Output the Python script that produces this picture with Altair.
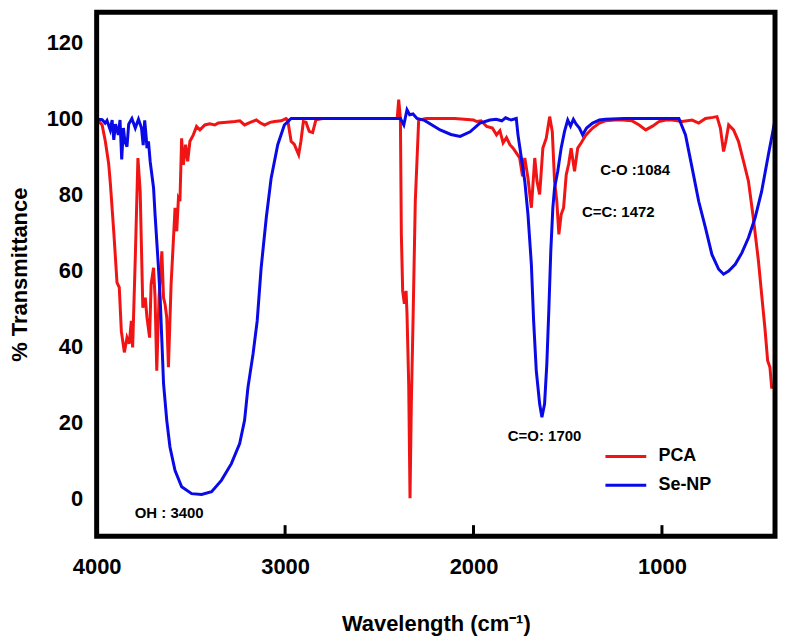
import altair as alt
import pandas as pd

# ---------------- data ----------------
pca_wn = [4000, 3988, 3971, 3954, 3936, 3927, 3909, 3892, 3880, 3869, 3853, 3839, 3827,
          3816, 3809, 3795, 3781, 3769, 3755, 3742, 3733, 3719, 3711, 3698, 3690, 3681,
          3669, 3654, 3645, 3637, 3628, 3619, 3605, 3593, 3584, 3575, 3566, 3558, 3549,
          3540, 3528, 3517, 3505, 3487, 3470, 3452, 3426, 3400, 3373, 3355, 3310, 3267,
          3240, 3215, 3185, 3153, 3130, 3109, 3080, 3056, 3020, 2995, 2986, 2968, 2951,
          2928, 2916, 2903, 2889, 2872, 2854, 2836, 2800, 2600, 2420, 2405, 2397, 2388,
          2383, 2376, 2367, 2358, 2353, 2344, 2337, 2330, 2321, 2309, 2291, 2250, 2100,
          2000, 1983, 1960, 1930, 1900, 1878, 1860, 1843, 1825, 1807, 1790, 1772, 1755,
          1740, 1728, 1711, 1693, 1675, 1663, 1649, 1632, 1614, 1596, 1582, 1570, 1558,
          1547, 1535, 1522, 1508, 1495, 1482, 1464, 1447, 1430, 1403, 1368, 1332, 1300,
          1250, 1210, 1160, 1121, 1086, 1050, 1016, 980, 946, 893, 840, 805, 769, 730,
          708, 690, 673, 661, 646, 620, 594, 567, 541, 515, 488, 471, 453, 439, 427, 418,
          400]
pca_t = [99.0, 99.2, 98.3, 94.0, 88.0, 82.7, 70.0, 56.8, 55.5, 44.0, 38.4, 42.3, 40.7,
         46.7, 39.7, 63.3, 89.6, 80.8, 50.2, 52.8, 47.6, 42.3, 56.3, 60.7, 52.8, 33.6,
         52.8, 65.0, 52.8, 51.1, 47.6, 34.5, 56.3, 67.7, 76.5, 70.3, 79.0, 78.2, 94.8,
         87.8, 93.1, 88.7, 94.0, 95.7, 97.9, 97.0, 98.3, 98.6, 98.3, 98.8, 99.0, 99.2,
         99.4, 98.3, 99.0, 99.6, 98.8, 98.3, 99.0, 99.2, 99.4, 100.0, 99.6, 94.0, 93.2,
         90.5, 94.0, 99.2, 99.0, 96.6, 96.3, 99.7, 100, 100, 100, 100, 105, 100,
         69.5, 54.6, 51.2, 54.6, 48.6, 30, 0, 25, 46.7, 78.2, 99.6, 100, 100,
         99.6, 99.2, 99.4, 97.9, 97.5, 95.7, 96.8, 93.6, 95.0, 93.1, 92.2, 90.9, 89.6,
         84.8, 89.6, 84.3, 76.5, 89.6, 83.5, 80.0, 92.2, 94.8, 100.5, 96.6, 83.5, 78.2,
         69.5, 74.7, 76.5, 85.2, 88.0, 92.2, 86.1, 92.2, 93.5, 95.7, 97.5, 98.8, 99.4,
         99.6, 99.6, 99.4, 98.3, 97.0, 98.0, 99.2, 99.6, 99.6, 99.2, 99.6, 98.8, 100, 100.3,
         100.5, 97.5, 91.3, 94.0, 98.3, 97.0, 94.0, 88.7, 83.5, 73.8, 62.5, 53.7, 44.5, 36.2, 34.5, 29.2,
         29.2]

senp_wn = [4000, 3990, 3971, 3955, 3945, 3928, 3918, 3909, 3900, 3885, 3876, 3867, 3858,
           3850, 3839, 3830, 3813, 3795, 3778, 3762, 3753, 3745, 3737, 3733, 3725, 3716,
           3707, 3698, 3690, 3681, 3672, 3663, 3654, 3645, 3628, 3611, 3584, 3549, 3496,
           3443, 3390, 3338, 3285, 3241, 3215, 3197, 3170, 3148, 3127, 3100, 3074, 3039,
           3004, 2968, 2700, 2420, 2388, 2370, 2353, 2339, 2321, 2300, 2260, 2177, 2120,
           2071, 2018, 1966, 1913, 1880, 1850, 1830, 1800, 1773, 1764, 1746, 1728, 1711,
           1693, 1681, 1667, 1649, 1637, 1623, 1611, 1600, 1590, 1579, 1570, 1553, 1535,
           1517, 1500, 1485, 1470, 1455, 1438, 1421, 1400, 1368, 1332, 1300, 1200, 1100,
           1000, 910, 875, 840, 805, 769, 735, 699, 673, 646, 611, 576, 541, 506, 471,
           435, 400]
senp_t = [100.1, 99.8, 99.7, 98.8, 99.5, 97.0, 99.6, 94.4, 98.5, 95.7, 99.6, 89.2, 97.5,
          94.0, 92.6, 98.5, 100.0, 97.5, 99.8, 97.5, 93.0, 99.5, 95.0, 92.2, 94.0, 88.7,
          85.2, 81.7, 74.7, 67.7, 60.7, 52.8, 41.5, 30.2, 20.5, 13.5, 7.3, 3.0, 1.2,
          1.0, 1.7, 4.7, 9.1, 14.4, 20.5, 29.2, 38.0, 46.7, 60.7, 73.8, 84.3, 93.1,
          98.3, 100, 100, 100, 100, 98.3, 102.3, 101.0, 101.2, 100, 99.5, 97.0, 95.8,
          95.3, 96.5, 98.8, 99.6, 99.8, 99.4, 100.2, 99.6, 100, 95.7, 89.6, 83.5, 74.7,
          61.6, 46.7, 33.6, 24.8, 21.3, 24.8, 35.3, 50.0, 65.0, 76.5, 81.7, 86.1, 92.2,
          96.6, 99.6, 98.0, 99.8, 98.5, 97.5, 95.7, 97.5, 98.8, 99.6, 99.8, 100, 100,
          100, 100, 95.7, 87.0, 78.2, 71.2, 64.2, 60.3, 59.0, 59.8, 61.6, 64.6, 68.6, 73.8, 80.8,
          90.5, 99.6]

series_names = ["PCA", "Se-NP"]
series_colors = ["#f01414", "#0a0ae6"]

ann_text = ["OH : 3400", "C=O: 1700", "C-O :1084", "C=C: 1472"]
ann_wn = [3615, 1623, 1142, 1232]
ann_t = [-3.9, 16.3, 86.4, 75.3]

x_ticks = [4000, 3000, 2000, 1000]
inner_ticks = [3000, 2000, 1000]
y_ticks = [0, 20, 40, 60, 80, 100, 120]
x_domain = [400, 4000]
y_domain = [-10, 128]

# ---------------- tables ----------------
df = pd.concat([
    pd.DataFrame({"series": series_names[0], "wn": pca_wn, "t": pca_t, "i": range(len(pca_wn))}),
    pd.DataFrame({"series": series_names[1], "wn": senp_wn, "t": senp_t, "i": range(len(senp_wn))}),
])
ann = pd.DataFrame({"label": ann_text, "wn": ann_wn, "t": ann_t})
ticks = pd.DataFrame({"wn": inner_ticks, "y0": y_domain[0], "y1": y_domain[0] + 2.9})
frame = pd.DataFrame({"x0": [x_domain[0]], "x1": [x_domain[1]],
                      "y0": [y_domain[0]], "y1": [y_domain[1]]})

FONT = "Liberation Sans"

xscale = alt.Scale(domain=x_domain, reverse=True, nice=False, zero=False)
yscale = alt.Scale(domain=y_domain, nice=False, zero=False)

lines = alt.Chart(df).mark_line(strokeWidth=3, clip=True).encode(
    x=alt.X("wn:Q", scale=xscale,
            axis=alt.Axis(values=x_ticks, title="Wavelength (cm⁻¹)", format="d",
                          labelFont=FONT, labelFontSize=22, labelFontWeight="bold",
                          labelColor="black", labelPadding=20, labelFlush=False,
                          ticks=False, domain=False,
                          grid=False, titleFont=FONT, titleFontSize=22,
                          titleFontWeight="bold", titleColor="black", titlePadding=37)),
    y=alt.Y("t:Q", scale=yscale,
            axis=alt.Axis(values=y_ticks, title="% Transmittance", labelFont=FONT,
                          labelFontSize=22, labelFontWeight="bold", labelColor="black",
                          labelPadding=14, labelFlush=False, ticks=False, domain=False,
                          grid=False,
                          titleFont=FONT, titleFontSize=22, titleFontWeight="bold",
                          titleColor="black", titlePadding=15)),
    color=alt.Color("series:N",
                    scale=alt.Scale(domain=series_names, range=series_colors),
                    legend=alt.Legend(title=None, orient="none", legendX=509, legendY=434,
                                      symbolType="M-1,0H3", symbolSize=420,
                                      symbolStrokeWidth=3, labelFont=FONT,
                                      labelFontSize=18, labelFontWeight="bold",
                                      labelColor="black", rowPadding=8, padding=0,
                                      labelOffset=31)),
    order="i:Q",
)

tick_rules = alt.Chart(ticks).mark_rule(color="black", strokeWidth=3).encode(
    x=alt.X("wn:Q", scale=xscale),
    y=alt.Y("y0:Q", scale=yscale),
    y2="y1:Q",
)

labels = alt.Chart(ann).mark_text(font=FONT, fontSize=15, fontWeight="bold",
                                  color="black").encode(
    x=alt.X("wn:Q", scale=xscale),
    y=alt.Y("t:Q", scale=yscale),
    text="label:N",
)

border = alt.Chart(frame).mark_rect(fillOpacity=0, stroke="black", strokeWidth=5).encode(
    x=alt.X("x0:Q", scale=xscale),
    x2="x1:Q",
    y=alt.Y("y0:Q", scale=yscale),
    y2="y1:Q",
)

chart = alt.layer(lines, tick_rules, labels, border).properties(
    width=681, height=526, padding=0
).configure_view(strokeWidth=0)

chart.save("out.html", embed_options={"renderer": "svg", "actions": False})
